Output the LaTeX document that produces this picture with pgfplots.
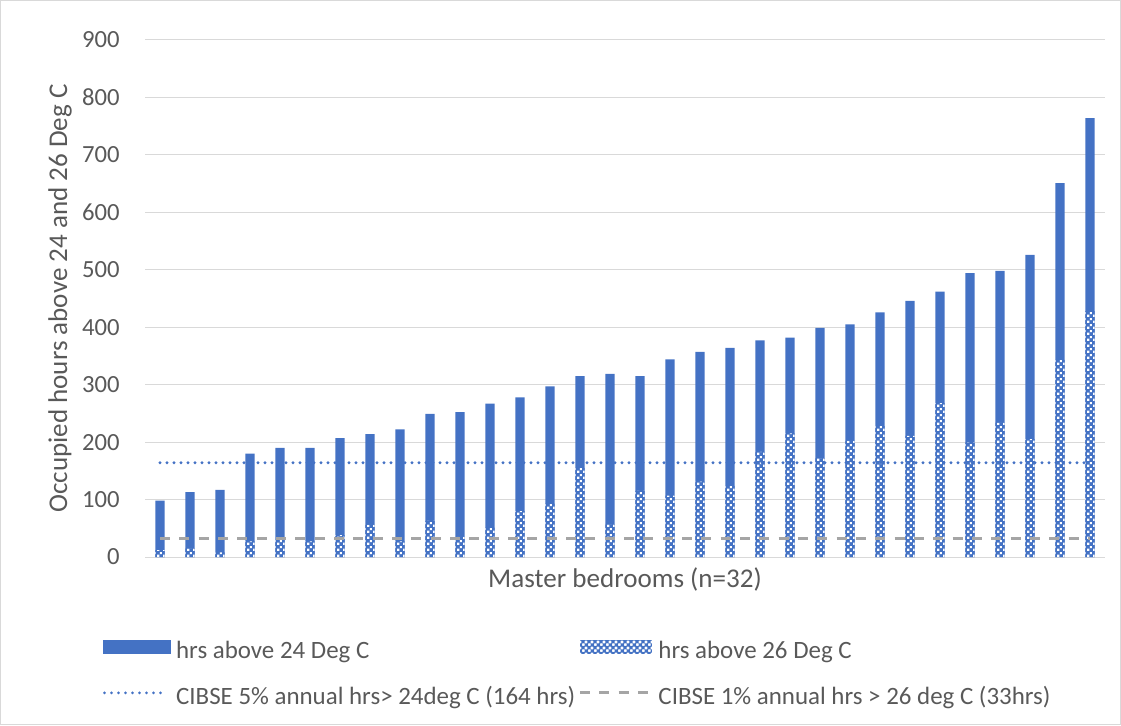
\documentclass[border=0pt]{standalone}
\usepackage{pgfplots}
\pgfplotsset{compat=1.18}
\usepackage{pgfplotstable}
\usepackage{fontspec}
\setmainfont{Carlito}
\usetikzlibrary{patterns}
\definecolor{blue24}{HTML}{4472C4}
\definecolor{gridgray}{HTML}{D9D9D9}
\definecolor{linegray}{HTML}{A5A5A5}
\definecolor{textgray}{HTML}{595959}
\pgfdeclarepatternformonly{mycheck}{\pgfqpoint{0pt}{0pt}}{\pgfqpoint{4.2pt}{4.2pt}}{\pgfqpoint{4.2pt}{4.2pt}}{%
  \pgfpathrectangle{\pgfqpoint{0.2pt}{0.2pt}}{\pgfqpoint{1.7pt}{1.7pt}}%
  \pgfpathrectangle{\pgfqpoint{2.3pt}{2.3pt}}{\pgfqpoint{1.7pt}{1.7pt}}%
  \pgfusepath{fill}}
\pgfplotstableread{
x h24 h26
1 98 12
2 113 15
3 117 8
4 180 27
5 190 30
6 190 27
7 207 38
8 214 56
9 222 27
10 249 63
11 252 35
12 267 51
13 278 80
14 297 93
15 315 155
16 319 57
17 315 115
18 344 107
19 357 131
20 364 124
21 377 183
22 382 215
23 399 172
24 405 202
25 426 228
26 446 211
27 462 268
28 494 199
29 498 234
30 526 205
31 651 343
32 764 428
}\datatable
\begin{document}
\begin{tikzpicture}
\useasboundingbox (0,0) rectangle (840.75pt,543.75pt);
\draw[gridgray, line width=0.75pt] (0.375pt,0.375pt) rectangle (840.375pt,543.375pt);
\begin{axis}[
  at={(108.75pt,126pt)}, anchor=south west,
  scale only axis, width=720pt, height=387.75pt,
  xmin=0.5, xmax=32.5, ymin=0, ymax=900,
  xtick=\empty, ytick={0,100,...,900},
  ymajorgrids, grid style={gridgray, line width=0.75pt},
  axis line style={draw=none}, major tick length=0pt,
  /pgf/number format/assume math mode=true,
  tick label style={font=\fontsize{18.5}{22}\selectfont, text=textgray},
  yticklabel style={anchor=east, inner sep=0pt, xshift=-18.75pt},
  xlabel={Master bedrooms (n=32)},
  ylabel={Occupied hours above 24 and 26 Deg C},
  label style={font=\fontsize{20.3}{24}\selectfont, text=textgray},
  xlabel style={at={(axis description cs:0.5,-0.0426)}, anchor=center},
  ylabel style={at={(axis description cs:-0.0885,0.5)}, anchor=center},
  legend columns=2,
  legend cell align=left,
  legend style={at={(axis description cs:-0.04375,-0.161)}, anchor=north west,
    draw=none, fill=none, inner sep=0pt, outer sep=0pt,
    font=\fontsize{18.7}{22}\selectfont, text=textgray,
    nodes={inner sep=0pt, text height=13pt, text depth=4pt},
    row sep=17.5pt, column sep=3.75pt},
]
\addplot[ybar, bar width=7pt, bar shift=0pt, fill=blue24, draw=none,
  legend image code/.code={\fill[blue24] (0pt,-1pt) rectangle (51pt,9pt);}]
  table[x=x, y=h24] {\datatable};
\addlegendentry{\makebox[298pt][l]{hrs above 24 Deg C}}
\addplot[ybar, bar width=7pt, bar shift=0pt, fill=blue24, draw=none,
  postaction={pattern=mycheck, pattern color=white},
  legend image code/.code={\fill[blue24] (0pt,-1pt) rectangle (54pt,9pt);
    \fill[pattern=mycheck, pattern color=white] (0pt,-1pt) rectangle (54pt,9pt);}]
  table[x=x, y=h26] {\datatable};
\addlegendentry{hrs above 26 Deg C}
\addplot[blue24, line width=2.4pt, line cap=round, dash pattern=on 0pt off 5.25pt,
  legend image code/.code={\draw[blue24, line width=2.2pt, line cap=round, dash pattern=on 0pt off 5.25pt] (1pt,4pt) -- (47pt,4pt);}]
  coordinates {(1,164) (32,164)};
\addlegendentry{\makebox[298pt][l]{CIBSE 5\% annual hrs> 24deg C (164 hrs)}}
\addplot[linegray, line width=2.25pt, dash pattern=on 7.5pt off 7pt,
  legend image code/.code={\draw[linegray, line width=2.25pt, dash pattern=on 7.5pt off 7pt] (0pt,4pt) -- (54pt,4pt);}]
  coordinates {(1,33) (32,33)};
\addlegendentry{CIBSE 1\% annual hrs > 26 deg C (33hrs)}
\end{axis}
\end{tikzpicture}
\end{document}
